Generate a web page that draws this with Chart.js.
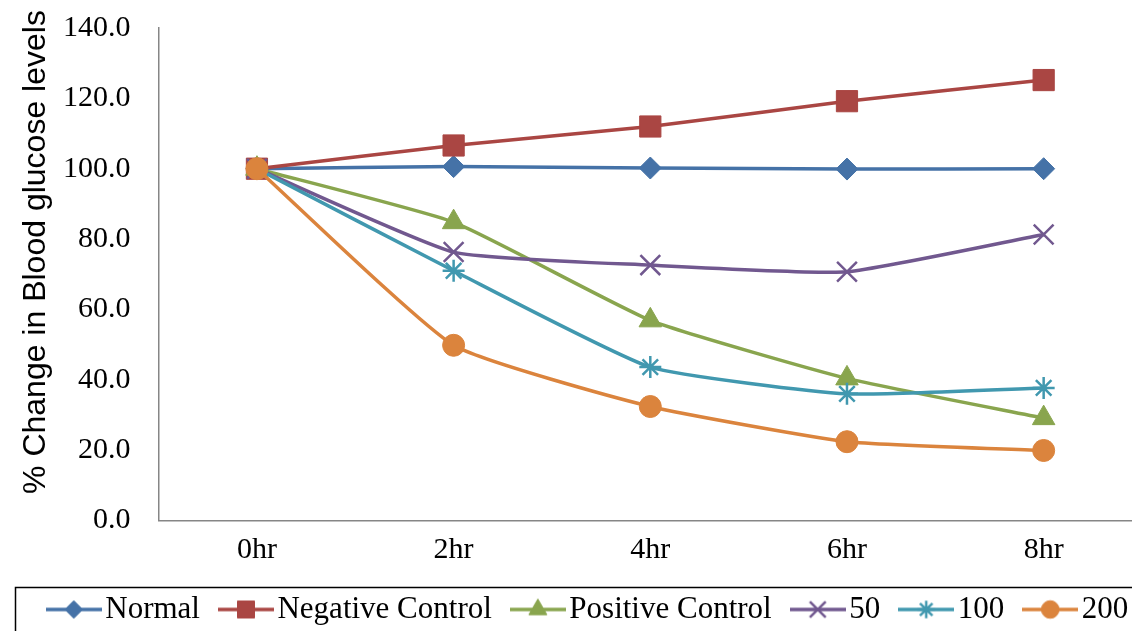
<!DOCTYPE html>
<html>
<head>
<meta charset="utf-8">
<script src="https://cdn.jsdelivr.net/npm/chart.js@4.4.1/dist/chart.umd.min.js"></script>
<style>
html, body { margin: 0; padding: 0; background: #fff; overflow: hidden; }
#wrap { position: relative; width: 1186px; height: 635px; }
</style>
</head>
<body>
<div id="wrap"><canvas id="glucoseChart" width="1186" height="635"></canvas></div>
<script>
// time points
const hours = ["0hr", "2hr", "4hr", "6hr", "8hr"];

// % change in blood glucose
const normal = [100, 100.6, 100.2, 99.9, 100.0];
const negativeControl = [100, 106.6, 112.0, 119.2, 125.2];
const positiveControl = [100, 84.8, 56.9, 40.4, 29.1];
const dose50 = [100, 76.3, 72.6, 70.7, 81.3];
const dose100 = [100, 71.0, 43.6, 36.0, 37.7];
const dose200 = [100, 49.8, 32.4, 22.4, 19.9];

const yMin = 0;
const yMax = 140;
const yStep = 20;

const serif = "'Liberation Serif', 'Times New Roman', serif";
const sans = "'Liberation Sans', Arial, sans-serif";
const axisGrey = "#868686";

const series = [
    { label: "Normal", data: normal, color: "#4572A7", style: "rectRot", radius: 11, bw: 1 },
    { label: "Negative Control", data: negativeControl, color: "#AA4643", style: "rect", radius: 15, bw: 1 },
    { label: "Positive Control", data: positiveControl, color: "#89A54E", style: "triangle", radius: 13, bw: 1 },
    { label: "50", data: dose50, color: "#71588F", style: "crossRot", radius: 14, bw: 2.5 },
    { label: "100", data: dose100, color: "#4198AF", style: "star", radius: 11, bw: 2.5 },
    { label: "200", data: dose200, color: "#DB843D", style: "circle", radius: 11, bw: 1 },
];

// small line + marker picture for each legend entry
function legendSample(s) {
    const c = document.createElement("canvas");
    c.width = 56;
    c.height = 26;
    const g = c.getContext("2d");
    g.strokeStyle = s.color;
    g.lineWidth = 3.5;
    g.beginPath();
    g.moveTo(0, 13);
    g.lineTo(56, 13);
    g.stroke();
    g.fillStyle = s.color;
    g.strokeStyle = s.color;
    g.lineWidth = s.bw;
    Chart.helpers.drawPoint(g, { pointStyle: s.style, radius: s.radius * 0.8, rotation: 0, borderWidth: s.bw }, 28, 13);
    return c;
}

const legendFrame = {
    id: "legendFrame",
    afterDraw(chart) {
        const ctx = chart.ctx;
        ctx.save();
        ctx.strokeStyle = "#000";
        ctx.lineWidth = 1.5;
        ctx.strokeRect(15.5, chart.legend.top + 23.5, chart.width, 100);
        ctx.restore();
    }
};

const ctx = document.getElementById("glucoseChart");

new Chart(ctx, {
    type: "line",
    data: {
        labels: hours,
        datasets: series.map((s, i) => ({
            label: s.label,
            data: s.data,
            order: series.length - i,
            borderColor: s.color,
            backgroundColor: s.color,
            borderWidth: 3.5,
            tension: 0.15,
            pointStyle: s.style,
            pointRadius: s.radius,
            pointHoverRadius: s.radius,
            pointBackgroundColor: s.color,
            pointBorderColor: s.color,
            pointBorderWidth: s.bw,
            legendImage: legendSample(s),
        }))
    },
    options: {
        responsive: false,
        animation: false,
        layout: { padding: { top: 28, right: 0, left: 0, bottom: 0 } },
        plugins: {
            tooltip: { enabled: false },
            legend: {
                position: "bottom",
                labels: {
                    usePointStyle: true,
                    pointStyleWidth: 32,
                    padding: 30,
                    color: "#000",
                    font: { family: serif, size: 31 },
                    sort: (a, b) => a.datasetIndex - b.datasetIndex,
                    generateLabels(chart) {
                        return chart.data.datasets.map((d, i) => ({
                            text: d.label,
                            datasetIndex: i,
                            pointStyle: d.legendImage,
                            fillStyle: d.borderColor,
                            strokeStyle: d.borderColor,
                            lineWidth: 0,
                            hidden: false,
                            fontColor: "#000",
                        }));
                    }
                }
            }
        },
        scales: {
            x: {
                offset: true,
                grid: { drawOnChartArea: false, drawTicks: false },
                border: { color: axisGrey, width: 1.5 },
                ticks: { color: "#000", padding: 11.5, font: { family: serif, size: 30 } },
                afterFit(scale) { scale.height = 43.5; }
            },
            y: {
                min: yMin,
                max: yMax,
                grid: { drawOnChartArea: false, drawTicks: true, tickLength: 28, color: "rgba(0,0,0,0)" },
                border: { color: axisGrey, width: 1.5 },
                ticks: {
                    stepSize: yStep,
                    color: "#000",
                    padding: 0,
                    font: { family: serif, size: 30 },
                    callback: (v) => v.toFixed(1)
                },
                title: {
                    display: true,
                    text: "     % Change in Blood glucose levels",
                    color: "#000",
                    font: { family: sans, size: 32 },
                    padding: { top: 17, bottom: 0 }
                },
                afterFit(scale) { scale.width = 158.6; }
            },
            // empty right-hand spacer so the plot ends where the original does
            spacer: {
                type: "linear",
                position: "right",
                grid: { display: false, drawTicks: false },
                border: { display: false },
                ticks: { display: false },
                afterFit(scale) { scale.width = 44; }
            }
        }
    },
    plugins: [legendFrame]
});
</script>
</body>
</html>
